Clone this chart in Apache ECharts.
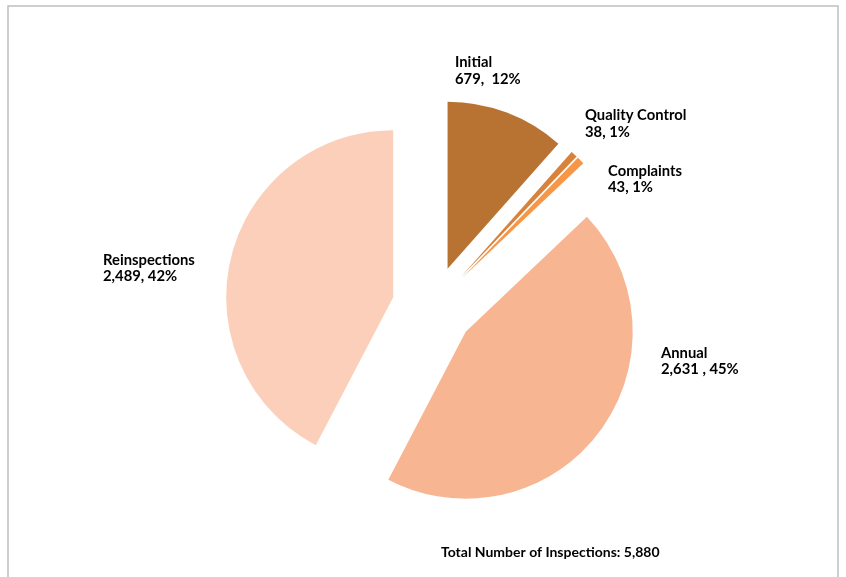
<!DOCTYPE html>
<html>
<head>
<meta charset="utf-8">
<script src="https://cdn.jsdelivr.net/npm/echarts@6/dist/echarts.min.js"></script>
<style>
html,body{margin:0;padding:0;background:#fff;}
#chart{width:846px;height:577px;}
</style>
</head>
<body>
<div id="chart"></div>
<script>
// ---- data ----
var categories = ['Initial', 'Quality Control', 'Complaints', 'Annual', 'Reinspections'];
var values = [679, 38, 43, 2631, 2489];
var labelSeparators = [',  ', ', ', ', ', ' , ', ', '];
var totalLabel = 'Total Number of Inspections: ';

// ---- styles / layout ----
var colors = ['#B87333', '#D9823B', '#F79646', '#F8B592', '#FBCFBA'];
var labelPos = [[455, 54], [585, 107], [608, 162.5], [661, 344.5], [103, 251.5]];

var total = values.reduce(function (a, b) { return a + b; }, 0);
function fmt(n) { return n.toString().replace(/\B(?=(\d{3})+(?!\d))/g, ','); }

var labelGraphics = categories.map(function (c, i) {
  return {
    type: 'text', x: labelPos[i][0], y: labelPos[i][1], silent: true,
    style: {
      text: c + '\n' + fmt(values[i]) + labelSeparators[i] + Math.round(values[i] / total * 100) + '%',
      fill: '#000', font: 'bold 14.8px Lato', lineHeight: 16.5,
      align: 'left', verticalAlign: 'top'
    }
  };
});

var chart = echarts.init(document.getElementById('chart'), null, {renderer: 'canvas'});
var option = {
  backgroundColor: '#ffffff',
  animation: false,
  graphic: [
    {type: 'rect', shape: {x: 8, y: 6, width: 830, height: 620}, style: {fill: 'none', stroke: '#BFBFBF', lineWidth: 1.5}, silent: true},
    {type: 'text', x: 441, y: 545, silent: true, style: {text: totalLabel + fmt(total), fill: '#000', font: 'bold 14px Lato', verticalAlign: 'top'}}
  ].concat(labelGraphics),
  series: [{
    type: 'pie',
    center: [433, 307],
    radius: 167,
    startAngle: 90,
    clockwise: true,
    selectedMode: 'multiple',
    selectedOffset: 41,
    emphasis: {disabled: true},
    label: {show: false},
    labelLine: {show: false},
    data: categories.map(function (c, i) {
      return {name: c, value: values[i], selected: true, itemStyle: {color: colors[i]}};
    })
  }]
};
chart.setOption(option);
</script>
</body>
</html>
